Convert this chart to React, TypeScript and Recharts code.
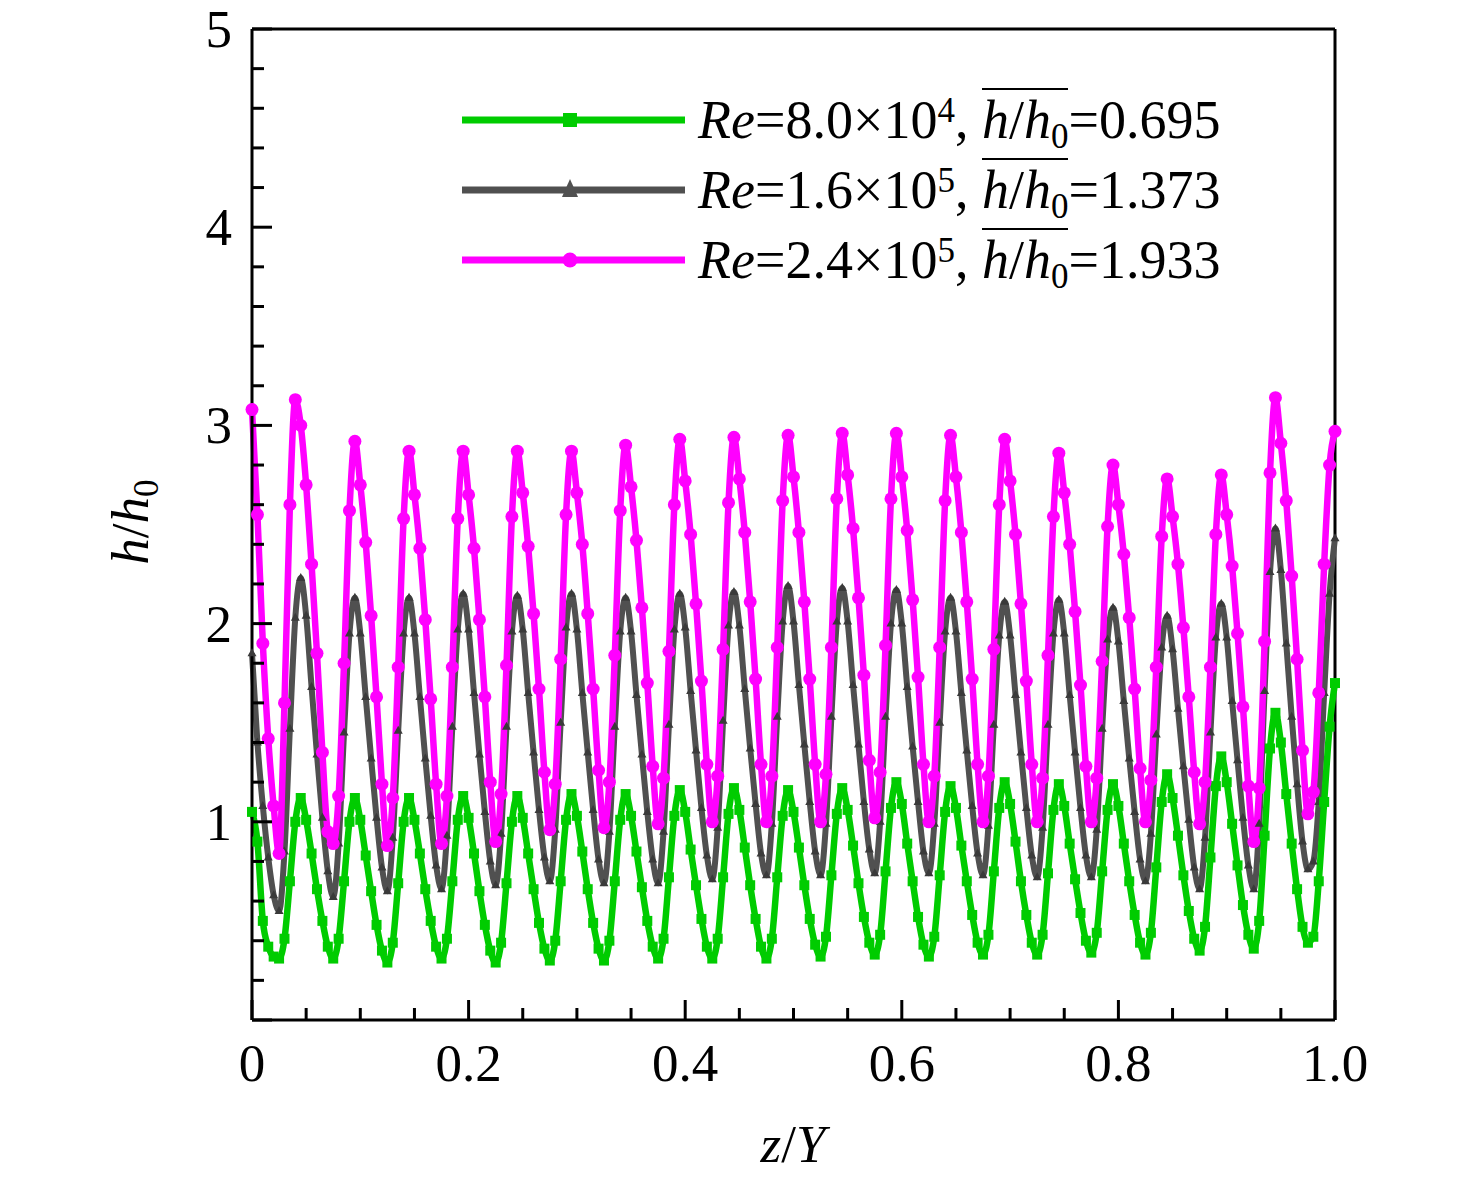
import React from 'react';
import { LineChart, Line, XAxis, YAxis, ReferenceLine, Legend } from 'recharts';

const SERIF = "'Liberation Serif', 'Times New Roman', 'DejaVu Serif', serif";
const GREEN = '#00CC00';
const GRAY = '#505050';
const PINK = '#FF00FF';

const Z = [
  0, 0.005, 0.01, 0.015, 0.02, 0.025, 0.03, 0.035, 0.04, 0.045,
  0.05, 0.055, 0.06, 0.065, 0.07, 0.075, 0.08, 0.085, 0.09, 0.095,
  0.1, 0.105, 0.11, 0.115, 0.12, 0.125, 0.13, 0.135, 0.14, 0.145,
  0.15, 0.155, 0.16, 0.165, 0.17, 0.175, 0.18, 0.185, 0.19, 0.195,
  0.2, 0.205, 0.21, 0.215, 0.22, 0.225, 0.23, 0.235, 0.24, 0.245,
  0.25, 0.255, 0.26, 0.265, 0.27, 0.275, 0.28, 0.285, 0.29, 0.295,
  0.3, 0.305, 0.31, 0.315, 0.32, 0.325, 0.33, 0.335, 0.34, 0.345,
  0.35, 0.355, 0.36, 0.365, 0.37, 0.375, 0.38, 0.385, 0.39, 0.395,
  0.4, 0.405, 0.41, 0.415, 0.42, 0.425, 0.43, 0.435, 0.44, 0.445,
  0.45, 0.455, 0.46, 0.465, 0.47, 0.475, 0.48, 0.485, 0.49, 0.495,
  0.5, 0.505, 0.51, 0.515, 0.52, 0.525, 0.53, 0.535, 0.54, 0.545,
  0.55, 0.555, 0.56, 0.565, 0.57, 0.575, 0.58, 0.585, 0.59, 0.595,
  0.6, 0.605, 0.61, 0.615, 0.62, 0.625, 0.63, 0.635, 0.64, 0.645,
  0.65, 0.655, 0.66, 0.665, 0.67, 0.675, 0.68, 0.685, 0.69, 0.695,
  0.7, 0.705, 0.71, 0.715, 0.72, 0.725, 0.73, 0.735, 0.74, 0.745,
  0.75, 0.755, 0.76, 0.765, 0.77, 0.775, 0.78, 0.785, 0.79, 0.795,
  0.8, 0.805, 0.81, 0.815, 0.82, 0.825, 0.83, 0.835, 0.84, 0.845,
  0.85, 0.855, 0.86, 0.865, 0.87, 0.875, 0.88, 0.885, 0.89, 0.895,
  0.9, 0.905, 0.91, 0.915, 0.92, 0.925, 0.93, 0.935, 0.94, 0.945,
  0.95, 0.955, 0.96, 0.965, 0.97, 0.975, 0.98, 0.985, 0.99, 0.995,
  1,
];

// Re = 8.0x10^4
const GREEN_H = [
  1.05, 0.90, 0.50, 0.37, 0.32, 0.31, 0.41, 0.70, 1.00, 1.12,
  1.01, 0.84, 0.66, 0.50, 0.37, 0.31, 0.41, 0.70, 1.00, 1.12,
  1.01, 0.83, 0.65, 0.48, 0.35, 0.29, 0.39, 0.69, 1.00, 1.12,
  1.01, 0.84, 0.66, 0.50, 0.37, 0.31, 0.41, 0.70, 1.01, 1.13,
  1.02, 0.84, 0.65, 0.48, 0.35, 0.29, 0.39, 0.69, 1.00, 1.13,
  1.02, 0.84, 0.66, 0.49, 0.36, 0.30, 0.40, 0.70, 1.01, 1.14,
  1.03, 0.85, 0.66, 0.49, 0.36, 0.30, 0.40, 0.70, 1.01, 1.14,
  1.03, 0.85, 0.67, 0.50, 0.37, 0.31, 0.41, 0.72, 1.03, 1.16,
  1.05, 0.86, 0.68, 0.51, 0.37, 0.31, 0.41, 0.72, 1.04, 1.17,
  1.06, 0.87, 0.68, 0.51, 0.37, 0.31, 0.41, 0.72, 1.03, 1.16,
  1.05, 0.87, 0.68, 0.51, 0.38, 0.32, 0.42, 0.73, 1.04, 1.17,
  1.06, 0.88, 0.69, 0.52, 0.39, 0.33, 0.43, 0.75, 1.07, 1.20,
  1.09, 0.89, 0.70, 0.52, 0.38, 0.32, 0.42, 0.73, 1.05, 1.18,
  1.07, 0.88, 0.70, 0.53, 0.39, 0.33, 0.43, 0.75, 1.07, 1.20,
  1.09, 0.90, 0.70, 0.53, 0.39, 0.33, 0.43, 0.74, 1.06, 1.19,
  1.08, 0.89, 0.71, 0.54, 0.40, 0.34, 0.44, 0.75, 1.06, 1.19,
  1.08, 0.89, 0.70, 0.53, 0.39, 0.33, 0.44, 0.77, 1.10, 1.24,
  1.12, 0.93, 0.73, 0.55, 0.41, 0.35, 0.47, 0.82, 1.18, 1.33,
  1.20, 0.99, 0.78, 0.58, 0.43, 0.36, 0.50, 0.93, 1.37, 1.55,
  1.40, 1.14, 0.89, 0.66, 0.47, 0.39, 0.42, 0.70, 1.10, 1.48,
  1.70,
];

// Re = 1.6x10^5
const GRAY_H = [
  1.85, 1.40, 1.08, 0.82, 0.63, 0.55, 0.85, 1.47, 2.03, 2.23,
  2.04, 1.68, 1.34, 1.02, 0.75, 0.62, 0.89, 1.45, 1.95, 2.13,
  1.95, 1.63, 1.32, 1.02, 0.77, 0.65, 0.92, 1.46, 1.95, 2.13,
  1.95, 1.63, 1.32, 1.03, 0.78, 0.66, 0.93, 1.48, 1.97, 2.15,
  1.97, 1.65, 1.34, 1.05, 0.80, 0.68, 0.94, 1.48, 1.96, 2.14,
  1.97, 1.65, 1.35, 1.06, 0.82, 0.70, 0.96, 1.50, 1.98, 2.15,
  1.97, 1.65, 1.35, 1.06, 0.81, 0.69, 0.95, 1.48, 1.96, 2.13,
  1.96, 1.64, 1.34, 1.05, 0.81, 0.69, 0.95, 1.49, 1.97, 2.15,
  1.98, 1.66, 1.36, 1.07, 0.83, 0.71, 0.97, 1.51, 1.99, 2.16,
  1.99, 1.67, 1.37, 1.09, 0.84, 0.73, 0.99, 1.53, 2.01, 2.19,
  2.01, 1.69, 1.39, 1.10, 0.85, 0.73, 0.99, 1.53, 2.01, 2.18,
  2.01, 1.69, 1.39, 1.10, 0.86, 0.74, 1.00, 1.53, 2.00, 2.17,
  2.00, 1.68, 1.38, 1.10, 0.85, 0.74, 0.99, 1.50, 1.96, 2.13,
  1.96, 1.65, 1.36, 1.08, 0.84, 0.73, 0.98, 1.49, 1.94, 2.11,
  1.94, 1.64, 1.35, 1.07, 0.83, 0.72, 0.97, 1.49, 1.95, 2.12,
  1.95, 1.64, 1.35, 1.07, 0.83, 0.72, 0.96, 1.47, 1.92, 2.08,
  1.91, 1.61, 1.32, 1.05, 0.81, 0.70, 0.94, 1.44, 1.88, 2.04,
  1.87, 1.57, 1.28, 1.01, 0.77, 0.66, 0.92, 1.45, 1.93, 2.10,
  1.93, 1.61, 1.31, 1.02, 0.78, 0.66, 0.99, 1.66, 2.26, 2.48,
  2.27, 1.90, 1.53, 1.19, 0.90, 0.76, 0.80, 1.10, 1.65, 2.15,
  2.43,
];

// Re = 2.4x10^5
const PINK_H = [
  3.08, 2.55, 1.90, 1.42, 1.08, 0.84, 1.60, 2.60, 3.13, 3.00,
  2.70, 2.30, 1.85, 1.35, 0.95, 0.89, 1.13, 1.80, 2.57, 2.92,
  2.70, 2.41, 2.04, 1.63, 1.19, 0.88, 1.12, 1.78, 2.53, 2.87,
  2.65, 2.38, 2.02, 1.62, 1.19, 0.89, 1.13, 1.78, 2.53, 2.87,
  2.65, 2.38, 2.02, 1.63, 1.20, 0.90, 1.14, 1.79, 2.54, 2.87,
  2.66, 2.39, 2.05, 1.67, 1.25, 0.96, 1.19, 1.82, 2.55, 2.87,
  2.66, 2.40, 2.05, 1.67, 1.26, 0.97, 1.20, 1.84, 2.57, 2.90,
  2.69, 2.42, 2.08, 1.70, 1.28, 0.99, 1.22, 1.86, 2.60, 2.93,
  2.72, 2.45, 2.10, 1.71, 1.29, 1.00, 1.23, 1.87, 2.61, 2.94,
  2.73, 2.46, 2.11, 1.72, 1.29, 1.00, 1.23, 1.88, 2.62, 2.95,
  2.74, 2.46, 2.11, 1.72, 1.29, 1.00, 1.24, 1.88, 2.63, 2.96,
  2.75, 2.48, 2.13, 1.74, 1.31, 1.02, 1.25, 1.89, 2.63, 2.96,
  2.74, 2.47, 2.12, 1.73, 1.29, 1.00, 1.23, 1.88, 2.62, 2.95,
  2.74, 2.46, 2.11, 1.72, 1.29, 1.00, 1.23, 1.87, 2.60, 2.93,
  2.72, 2.45, 2.10, 1.71, 1.29, 1.00, 1.22, 1.84, 2.54, 2.86,
  2.66, 2.40, 2.06, 1.69, 1.28, 1.00, 1.22, 1.81, 2.49, 2.80,
  2.60, 2.35, 2.03, 1.67, 1.27, 1.00, 1.21, 1.78, 2.44, 2.73,
  2.54, 2.30, 1.98, 1.63, 1.25, 0.99, 1.20, 1.78, 2.45, 2.75,
  2.55, 2.29, 1.95, 1.58, 1.18, 0.90, 1.17, 1.91, 2.76, 3.14,
  2.91, 2.62, 2.24, 1.82, 1.36, 1.04, 1.15, 1.65, 2.30, 2.80,
  2.97,
];

const X_TICKS = [0, 0.05, 0.1, 0.15, 0.2, 0.25, 0.3, 0.35, 0.4, 0.45, 0.5, 0.55, 0.6, 0.65, 0.7, 0.75, 0.8, 0.85, 0.9, 0.95, 1];
const Y_TICKS = [0, 0.2, 0.4, 0.6, 0.8, 1, 1.2, 1.4, 1.6, 1.8, 2, 2.2, 2.4, 2.6, 2.8, 3, 3.2, 3.4, 3.6, 3.8, 4, 4.2, 4.4, 4.6, 4.8, 5];

const LEGEND_RE = ['8.0', '1.6', '2.4'];
const LEGEND_EXP = ['4', '5', '5'];
const LEGEND_MEAN = ['0.695', '1.373', '1.933'];
const LEGEND_COLORS = [GREEN, GRAY, PINK];

const data = Z.map((z, i) => ({ z, green: GREEN_H[i], gray: GRAY_H[i], pink: PINK_H[i] }));

const TICK_FONT = 53;

const XTick = (props: any) => {
  const { x, y, payload } = props;
  const v = payload.value;
  const major = Math.abs(v * 5 - Math.round(v * 5)) < 1e-6;
  return (
    <g>
      <line x1={x} x2={x} y1={y} y2={y - (major ? 20 : 12)} stroke="#000" strokeWidth={3} />
      {major && (
        <text x={x} y={y + 61} textAnchor="middle" fontSize={TICK_FONT} fontFamily={SERIF} fill="#000">
          {v === 0 ? '0' : v.toFixed(1)}
        </text>
      )}
    </g>
  );
};

const YTick = (props: any) => {
  const { x, y, payload } = props;
  const v = payload.value;
  const major = Math.abs(v - Math.round(v)) < 1e-6;
  return (
    <g>
      <line x1={x} x2={x + (major ? 20 : 12)} y1={y} y2={y} stroke="#000" strokeWidth={3} />
      {major && v !== 0 && (
        <text x={x - 20} y={y + 18} textAnchor="end" fontSize={TICK_FONT} fontFamily={SERIF} fill="#000">
          {String(v)}
        </text>
      )}
    </g>
  );
};

const pinkDot = (p: any) => <circle key={`pk${p.index}`} cx={p.cx} cy={p.cy} r={6.5} fill={PINK} />;
const greenDot = (p: any) => (
  <rect key={`gn${p.index}`} x={p.cx - 5} y={p.cy - 5} width={10} height={10} fill={GREEN} />
);
const grayDot = (p: any) => (
  <path
    key={`gy${p.index}`}
    d={`M${p.cx},${p.cy - 5} L${p.cx + 4.5},${p.cy + 3} L${p.cx - 4.5},${p.cy + 3} Z`}
    fill="#3a3a3a"
  />
);

const legendMarker = (i: number) => {
  if (i === 0) return <rect x={101} y={28} width={14} height={14} fill={GREEN} />;
  if (i === 1) return <path d="M108,24 L116,42 L100,42 Z" fill={GRAY} />;
  return <circle cx={108} cy={35} r={7.5} fill={PINK} />;
};

const supStyle: React.CSSProperties = { fontSize: 35, position: 'relative', top: -16, lineHeight: 0 };
const subStyle: React.CSSProperties = { fontSize: 35, position: 'relative', top: 10, lineHeight: 0 };

const LegendContent = () => (
  <div style={{ fontFamily: SERIF, fontSize: 54, color: '#000' }}>
    {LEGEND_RE.map((re, i) => (
      <div key={i} style={{ display: 'flex', alignItems: 'center', height: 70, lineHeight: '70px', whiteSpace: 'nowrap' }}>
        <svg width={223} height={70} style={{ display: 'block', flex: 'none' }}>
          <line x1={0} x2={223} y1={35} y2={35} stroke={LEGEND_COLORS[i]} strokeWidth={7} />
          {legendMarker(i)}
        </svg>
        <span style={{ marginLeft: 13, fontFamily: SERIF }}>
          <i>Re</i>={re}×10<span style={supStyle}>{LEGEND_EXP[i]}</span>,{' '}
          <span style={{ borderTop: '2.5px solid #000' }}>
            <i>h</i>/<i>h</i>
            <span style={subStyle}>0</span>
          </span>
          ={LEGEND_MEAN[i]}
        </span>
      </div>
    ))}
  </div>
);

const XLabel = () => (
  <text x={785} y={1154} textAnchor="middle" fontSize={TICK_FONT} fontFamily={SERIF} fill="#000">
    <tspan fontStyle="italic">z</tspan>
    <tspan>/</tspan>
    <tspan fontStyle="italic">Y</tspan>
  </text>
);

const YLabel = () => (
  <text
    x={140}
    y={514}
    transform="rotate(-90, 140, 514)"
    textAnchor="middle"
    fontSize={TICK_FONT}
    fontFamily={SERIF}
    fill="#000"
  >
    <tspan fontStyle="italic">h</tspan>
    <tspan>/</tspan>
    <tspan fontStyle="italic">h</tspan>
    <tspan fontSize={35} dy={10}>0</tspan>
  </text>
);

export default function App() {
  return (
    <div style={{ width: 1460, height: 1165, background: '#fff', fontFamily: SERIF }}>
      <LineChart width={1460} height={1165} data={data} margin={{ top: 21, right: 133, bottom: 53, left: 144 }}>
        <XAxis
          dataKey="z"
          type="number"
          domain={[0, 1]}
          ticks={X_TICKS}
          interval={0}
          tickSize={0}
          tickMargin={0}
          tickLine={false}
          tick={<XTick />}
          axisLine={{ stroke: '#000', strokeWidth: 3 }}
          height={100}
          label={<XLabel />}
        />
        <YAxis
          type="number"
          domain={[0, 5]}
          ticks={Y_TICKS}
          interval={0}
          tickSize={0}
          tickMargin={0}
          tickLine={false}
          tick={<YTick />}
          axisLine={{ stroke: '#000', strokeWidth: 3 }}
          width={100}
          label={<YLabel />}
        />
        <ReferenceLine y={5} stroke="#000" strokeWidth={3} />
        <ReferenceLine x={1} stroke="#000" strokeWidth={3} />
        <Line type="monotone" dataKey="gray" stroke={GRAY} strokeWidth={6} dot={grayDot} activeDot={false} isAnimationActive={false} />
        <Line type="monotone" dataKey="green" stroke={GREEN} strokeWidth={6.5} dot={greenDot} activeDot={false} isAnimationActive={false} />
        <Line type="monotone" dataKey="pink" stroke={PINK} strokeWidth={6.5} dot={pinkDot} activeDot={false} isAnimationActive={false} />
        <Legend
          layout="horizontal"
          verticalAlign="middle"
          align="center"
          content={<LegendContent />}
          wrapperStyle={{ position: 'absolute', left: 454, top: 77, width: 900, height: 210 }}
        />
      </LineChart>
    </div>
  );
}
